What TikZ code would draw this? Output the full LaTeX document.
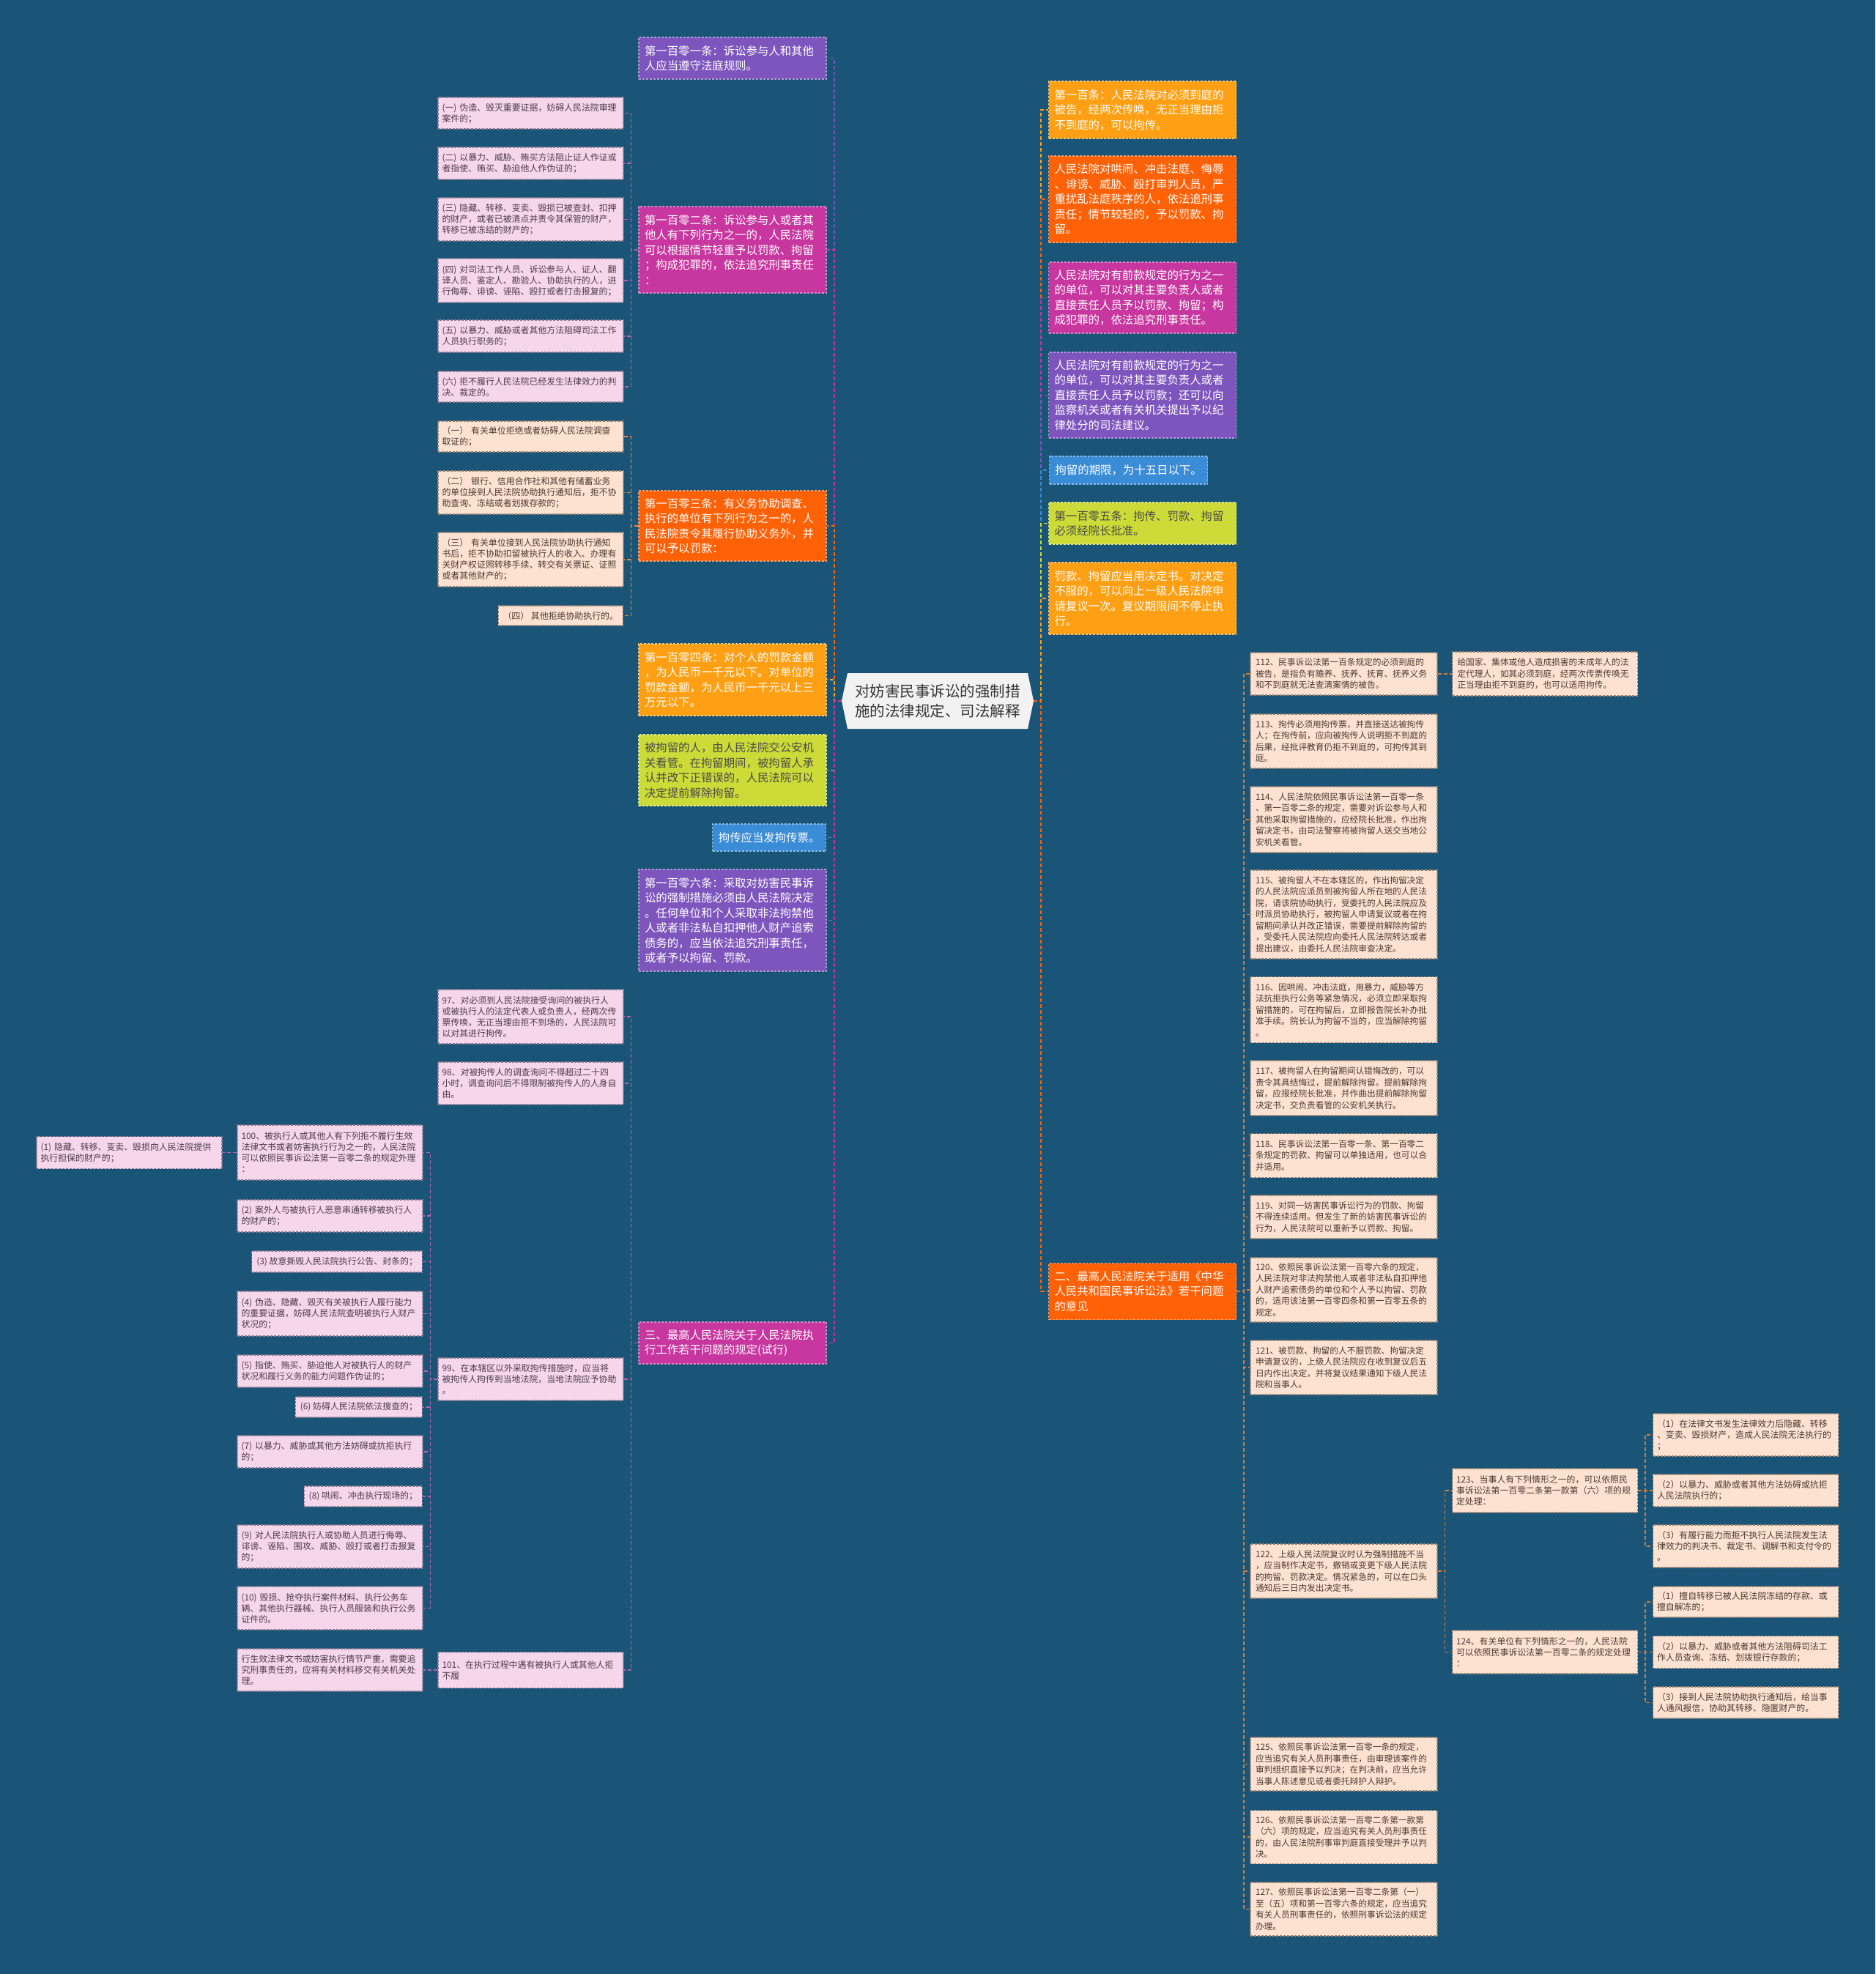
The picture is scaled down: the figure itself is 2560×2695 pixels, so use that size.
\documentclass[tikz,border=0pt]{standalone}
\usepackage{fontspec}
\setmainfont{Noto Sans CJK SC}
\newcommand\fmain{\fontsize{15.4}{20.5}\selectfont}
\newcommand\fleaf{\fontsize{11.9}{15}\selectfont}
\newcommand\fright{\fontsize{11.7}{15.5}\selectfont}
\newcommand\fcentre{\fontsize{20.5}{27}\selectfont}
\definecolor{bg}{HTML}{1A5577}
\definecolor{cPurple}{HTML}{7E55BD}
\definecolor{cMag}{HTML}{C7379F}
\definecolor{cRed}{HTML}{FF6106}
\definecolor{cAmber}{HTML}{FFA014}
\definecolor{cLime}{HTML}{CCDB38}
\definecolor{cBlue}{HTML}{3B8CD6}
\definecolor{cDark}{HTML}{4A4A4A}
\definecolor{cPink}{HTML}{F5D6EA}
\definecolor{cPinkText}{HTML}{4E3B4A}
\definecolor{cPinkLine}{HTML}{8A7A92}
\definecolor{cPeach}{HTML}{FDE2D1}
\definecolor{cPeachText}{HTML}{4A3A30}
\definecolor{cPeachLine}{HTML}{9A8272}
\definecolor{cCentre}{HTML}{F2F2F2}
\definecolor{cCentreText}{HTML}{363636}
\definecolor{lPink}{HTML}{B565B0}
\definecolor{lOrange}{HTML}{E88848}
\definecolor{lBrown}{HTML}{D27C3C}
\tikzset{
  box/.style={rectangle, align=left, anchor=center, line width=1.1pt, dash pattern=on 3pt off 2pt},
  mainbox/.style={box, text width=240pt, inner xsep=8pt, inner ysep=6pt, font=\fmain, text=white, fill=#1, draw=#1!60!white},
  mainshort/.style={box, inner xsep=8pt, inner ysep=6pt, font=\fmain, text=white, fill=#1, draw=#1!60!white},
  pinkleaf/.style={box, text width=242pt, inner xsep=5.5pt, inner ysep=5pt, font=\fleaf, text=cPinkText, fill=cPink, draw=cPinkLine},
  pinkshort/.style={box, inner xsep=6.5pt, inner ysep=5pt, font=\fleaf, text=cPinkText, fill=cPink, draw=cPinkLine},
  peachleaf/.style={box, text width=242pt, inner xsep=5.5pt, inner ysep=5pt, font=\fleaf, text=cPeachText, fill=cPeach, draw=cPeachLine},
  peachshort/.style={box, inner xsep=6.5pt, inner ysep=5pt, font=\fleaf, text=cPeachText, fill=cPeach, draw=cPeachLine},
  rightleaf/.style={box, text width=241pt, inner xsep=7pt, inner ysep=5pt, font=\fright, text=cPeachText, fill=cPeach, draw=cPeachLine},
  centretext/.style={rectangle, align=left, inner sep=0pt, font=\fcentre, text=cCentreText, minimum width=262pt, minimum height=76pt},
  conn/.style={draw=#1, line width=1.6pt, dash pattern=on 5pt off 3pt},
}
\newcommand\cL[3]{\draw[conn=#3] (#1.west) -- ++(-10,0) |- (#2.east);}
\newcommand\cR[3]{\draw[conn=#3] (#1.east) -- ++(10,0) |- (#2.west);}
\begin{document}
\begin{tikzpicture}[x=1pt,y=-1pt]
\fill[bg] (0,0) rectangle (2560,2695);
\useasboundingbox (0,0) rectangle (2560,2695);

% centre
\fill[cCentre] (1149,957) -- (1157,919) -- (1403,919) -- (1411,957) -- (1403,995) -- (1157,995) -- cycle;
\node[centretext] (c) at (1280,957) {对妨害民事诉讼的强制措\\施的法律规定、司法解释};

% left main column
\node[mainbox=cPurple, minimum height=57pt] (m101) at (1000,79.5) {第一百零一条：诉讼参与人和其他\\人应当遵守法庭规则。};
\node[mainbox=cMag, minimum height=118pt] (m102) at (1000,341) {第一百零二条：诉讼参与人或者其\\他人有下列行为之一的，人民法院\\可以根据情节轻重予以罚款、拘留\\；构成犯罪的，依法追究刑事责任\\：};
\node[mainbox=cRed, minimum height=96pt] (m103) at (1000,718) {第一百零三条：有义务协助调查、\\执行的单位有下列行为之一的，人\\民法院责令其履行协助义务外，并\\可以予以罚款：};
\node[mainbox=cAmber, minimum height=98pt] (m104) at (1000,928) {第一百零四条：对个人的罚款金额\\，为人民币一千元以下。对单位的\\罚款金额，为人民币一千元以上三\\万元以下。};
\node[mainbox=cLime, text=cDark, minimum height=97pt] (mJL) at (1000,1051.5) {被拘留的人，由人民法院交公安机\\关看管。在拘留期间，被拘留人承\\认并改下正错误的，人民法院可以\\决定提前解除拘留。};
\node[mainshort=cBlue, anchor=east, minimum height=37pt] (mJC) at (1128,1143.5) {拘传应当发拘传票。};
\node[mainbox=cPurple, minimum height=139pt] (m106) at (1000,1256.5) {第一百零六条：采取对妨害民事诉\\讼的强制措施必须由人民法院决定\\。任何单位和个人采取非法拘禁他\\人或者非法私自扣押他人财产追索\\债务的，应当依法追究刑事责任，\\或者予以拘留、罚款。};
\node[mainbox=cMag, minimum height=57pt] (m3) at (1000,1833.5) {三、最高人民法院关于人民法院执\\行工作若干问题的规定(试行)};

% 102 leaves
\node[pinkleaf, minimum height=43pt] (a1) at (724.5,154.5) {(一)~伪造、毁灭重要证据，妨碍人民法院审理\\案件的；};
\node[pinkleaf, minimum height=44pt] (a2) at (724.5,223) {(二)~以暴力、威胁、贿买方法阻止证人作证或\\者指使、贿买、胁迫他人作伪证的；};
\node[pinkleaf, minimum height=59pt] (a3) at (724.5,299.5) {(三)~隐藏、转移、变卖、毁损已被查封、扣押\\的财产，或者已被清点并责令其保管的财产，\\转移已被冻结的财产的；};
\node[pinkleaf, minimum height=60pt] (a4) at (724.5,383) {(四)~对司法工作人员、诉讼参与人、证人、翻\\译人员、鉴定人、勘验人、协助执行的人，进\\行侮辱、诽谤、诬陷、殴打或者打击报复的；};
\node[pinkleaf, minimum height=44pt] (a5) at (724.5,459) {(五)~以暴力、威胁或者其他方法阻碍司法工作\\人员执行职务的；};
\node[pinkleaf, minimum height=42pt] (a6) at (724.5,528) {(六)~拒不履行人民法院已经发生法律效力的判\\决、裁定的。};

% 103 leaves
\node[peachleaf, minimum height=42pt] (b1) at (724.5,596) {（一）~有关单位拒绝或者妨碍人民法院调查\\取证的；};
\node[peachleaf, minimum height=59pt] (b2) at (724.5,672.5) {（二）~银行、信用合作社和其他有储蓄业务\\的单位接到人民法院协助执行通知后，拒不协\\助查询、冻结或者划拨存款的；};
\node[peachleaf, minimum height=74pt] (b3) at (724.5,764) {（三）~有关单位接到人民法院协助执行通知\\书后，拒不协助扣留被执行人的收入、办理有\\关财产权证照转移手续、转交有关票证、证照\\或者其他财产的；};
\node[peachshort, anchor=east, minimum height=27pt] (b4) at (851,840.5) {（四）~其他拒绝协助执行的。};

% 三 children
\node[pinkleaf, minimum height=74pt] (c97) at (724.5,1388) {97、对必须到人民法院接受询问的被执行人\\或被执行人的法定代表人或负责人，经两次传\\票传唤，无正当理由拒不到场的，人民法院可\\以对其进行拘传。};
\node[pinkleaf, minimum height=58pt] (c98) at (724.5,1479) {98、对被拘传人的调查询问不得超过二十四\\小时，调查询问后不得限制被拘传人的人身自\\由。};
\node[pinkleaf, minimum height=58pt] (c99) at (724.5,1883) {99、在本辖区以外采取拘传措施时，应当将\\被拘传人拘传到当地法院，当地法院应予协助\\。};
\node[pinkleaf, minimum height=49pt] (c101) at (724.5,2280) {101、在执行过程中遇有被执行人或其他人拒\\不履};

% 99 children
\node[pinkleaf, minimum height=75pt] (d100) at (450.5,1573.5) {100、被执行人或其他人有下列拒不履行生效\\法律文书或者妨害执行行为之一的，人民法院\\可以依照民事诉讼法第一百零二条的规定外理\\：};
\node[pinkleaf, minimum height=44pt] (d1) at (176.5,1573.5) {(1)~隐藏、转移、变卖、毁损向人民法院提供\\执行担保的财产的；};
\node[pinkleaf, minimum height=44pt] (d2) at (450.5,1660) {(2)~案外人与被执行人恶意串通转移被执行人\\的财产的；};
\node[pinkshort, anchor=east, minimum height=29pt] (d3) at (577,1722.5) {(3)~故意撕毁人民法院执行公告、封条的；};
\node[pinkleaf, minimum height=61pt] (d4) at (450.5,1793.5) {(4)~伪造、隐藏、毁灭有关被执行人履行能力\\的重要证据，妨碍人民法院查明被执行人财产\\状况的；};
\node[pinkleaf, minimum height=44pt] (d5) at (450.5,1872) {(5)~指使、贿买、胁迫他人对被执行人的财产\\状况和履行义务的能力问题作伪证的；};
\node[pinkshort, anchor=east, minimum height=28pt] (d6) at (577,1921) {(6)~妨碍人民法院依法搜查的；};
\node[pinkleaf, minimum height=44pt] (d7) at (450.5,1982) {(7)~以暴力、威胁或其他方法妨碍或抗拒执行\\的；};
\node[pinkshort, anchor=east, minimum height=28pt] (d8) at (577,2043) {(8)~哄闹、冲击执行现场的；};
\node[pinkleaf, minimum height=59pt] (d9) at (450.5,2111.5) {(9)~对人民法院执行人或协助人员进行侮辱、\\诽谤、诬陷、围攻、威胁、殴打或者打击报复\\的；};
\node[pinkleaf, minimum height=59pt] (d10) at (450.5,2195.5) {(10)~毁损、抢夺执行案件材料、执行公务车\\辆、其他执行器械、执行人员服装和执行公务\\证件的。};
\node[pinkleaf, minimum height=58pt] (e1) at (450.5,2280) {行生效法律文书或妨害执行情节严重，需要追\\究刑事责任的，应将有关材料移交有关机关处\\理。};

% right main column
\node[mainbox=cAmber, minimum height=78pt] (r100) at (1559.5,150) {第一百条：人民法院对必须到庭的\\被告，经两次传唤，无正当理由拒\\不到庭的，可以拘传。};
\node[mainbox=cRed, minimum height=118pt] (r2) at (1559.5,272) {人民法院对哄闹、冲击法庭、侮辱\\、诽谤、威胁、殴打审判人员，严\\重扰乱法庭秩序的人，依法追刑事\\责任；情节较轻的，予以罚款、拘\\留。};
\node[mainbox=cMag, minimum height=97pt] (r3) at (1559.5,406.5) {人民法院对有前款规定的行为之一\\的单位，可以对其主要负责人或者\\直接责任人员予以罚款、拘留；构\\成犯罪的，依法追究刑事责任。};
\node[mainbox=cPurple, minimum height=117pt] (r4) at (1559.5,539.5) {人民法院对有前款规定的行为之一\\的单位，可以对其主要负责人或者\\直接责任人员予以罚款；还可以向\\监察机关或者有关机关提出予以纪\\律处分的司法建议。};
\node[mainshort=cBlue, anchor=west, minimum height=38pt] (r5) at (1432,642) {拘留的期限，为十五日以下。};
\node[mainbox=cLime, text=cDark, minimum height=57pt] (r6) at (1559.5,714.5) {第一百零五条：拘传、罚款、拘留\\必须经院长批准。};
\node[mainbox=cAmber, minimum height=98pt] (r7) at (1559.5,817) {罚款、拘留应当用决定书。对决定\\不服的，可以向上一级人民法院申\\请复议一次。复议期限间不停止执\\行。};
\node[mainbox=cRed, minimum height=77pt] (r8) at (1559.5,1763) {二、最高人民法院关于适用《中华\\人民共和国民事诉讼法》若干问题\\的意见};

% 二 children
\node[rightleaf, minimum height=58pt] (s112) at (1834.5,920) {112、民事诉讼法第一百条规定的必须到庭的\\被告，是指负有赡养、抚养、抚育、抚养义务\\和不到庭就无法查清案情的被告。};
\node[rightleaf, minimum height=74pt] (s113) at (1834.5,1012) {113、拘传必须用拘传票，并直接送达被拘传\\人；在拘传前，应向被拘传人说明拒不到庭的\\后果，经批评教育仍拒不到庭的，可拘传其到\\庭。};
\node[rightleaf, minimum height=90pt] (s114) at (1834.5,1119) {114、人民法院依照民事诉讼法第一百零一条\\、第一百零二条的规定，需要对诉讼参与人和\\其他采取拘留措施的，应经院长批准，作出拘\\留决定书，由司法警察将被拘留人送交当地公\\安机关看管。};
\node[rightleaf, minimum height=121pt] (s115) at (1834.5,1248.5) {115、被拘留人不在本辖区的，作出拘留决定\\的人民法院应派员到被拘留人所在地的人民法\\院，请该院协助执行，受委托的人民法院应及\\时派员协助执行，被拘留人申请复议或者在拘\\留期间承认并改正错误，需要提前解除拘留的\\，受委托人民法院应向委托人民法院转达或者\\提出建议，由委托人民法院审查决定。};
\node[rightleaf, minimum height=90pt] (s116) at (1834.5,1378.5) {116、因哄闹、冲击法庭，用暴力，威胁等方\\法抗拒执行公务等紧急情况，必须立即采取拘\\留措施的，可在拘留后，立即报告院长补办批\\准手续。院长认为拘留不当的，应当解除拘留\\。};
\node[rightleaf, minimum height=75pt] (s117) at (1834.5,1485.5) {117、被拘留人在拘留期间认错悔改的，可以\\责令其具结悔过，提前解除拘留。提前解除拘\\留，应报经院长批准，并作曲出提前解除拘留\\决定书，交负责看管的公安机关执行。};
\node[rightleaf, minimum height=60pt] (s118) at (1834.5,1577.5) {118、民事诉讼法第一百零一条、第一百零二\\条规定的罚款、拘留可以单独适用，也可以合\\并适用。};
\node[rightleaf, minimum height=59pt] (s119) at (1834.5,1661.5) {119、对同一妨害民事诉讼行为的罚款、拘留\\不得连续适用。但发生了新的妨害民事诉讼的\\行为，人民法院可以重新予以罚款、拘留。};
\node[rightleaf, minimum height=88pt] (s120) at (1834.5,1761) {120、依照民事诉讼法第一百零六条的规定，\\人民法院对非法拘禁他人或者非法私自扣押他\\人财产追索债务的单位和个人予以拘留、罚款\\的，适用该法第一百零四条和第一百零五条的\\规定。};
\node[rightleaf, minimum height=74pt] (s121) at (1834.5,1867) {121、被罚款、拘留的人不服罚款、拘留决定\\申请复议的，上级人民法院应在收到复议后五\\日内作出决定，并将复议结果通知下级人民法\\院和当事人。};
\node[rightleaf, minimum height=74pt] (s122) at (1834.5,2145) {122、上级人民法院复议时认为强制措施不当\\，应当制作决定书，撤销或变更下级人民法院\\的拘留、罚款决定。情况紧急的，可以在口头\\通知后三日内发出决定书。};
\node[rightleaf, minimum height=73pt] (s125) at (1834.5,2408.5) {125、依照民事诉讼法第一百零一条的规定，\\应当追究有关人员刑事责任，由审理该案件的\\审判组织直接予以判决；在判决前，应当允许\\当事人陈述意见或者委托辩护人辩护。};
\node[rightleaf, minimum height=73pt] (s126) at (1834.5,2508) {126、依照民事诉讼法第一百零二条第一款第\\（六）项的规定，应当追究有关人员刑事责任\\的，由人民法院刑事审判庭直接受理并予以判\\决。};
\node[rightleaf, minimum height=73pt] (s127) at (1834.5,2606.5) {127、依照民事诉讼法第一百零二条第（一）\\至（五）项和第一百零六条的规定，应当追究\\有关人员刑事责任的，依照刑事诉讼法的规定\\办理。};

% far right
\node[rightleaf, text width=239pt, minimum height=60pt] (t112) at (2109,920) {给国家、集体或他人造成损害的未成年人的法\\定代理人，如其必须到庭，经两次传票传唤无\\正当理由拒不到庭的，也可以适用拘传。};
\node[peachleaf, minimum height=60pt] (t123) at (2109,2035) {123、当事人有下列情形之一的，可以依照民\\事诉讼法第一百零二条第一款第（六）项的规\\定处理：};
\node[peachleaf, minimum height=59pt] (t124) at (2109,2255.5) {124、有关单位有下列情形之一的，人民法院\\可以依照民事诉讼法第一百零二条的规定处理\\：};
\node[peachleaf, minimum height=58pt] (u1) at (2383,1959) {（1）在法律文书发生法律效力后隐藏、转移\\、变卖、毁损财产，造成人民法院无法执行的\\；};
\node[peachleaf, minimum height=44pt] (u2) at (2383,2035) {（2）以暴力、威胁或者其他方法妨碍或抗拒\\人民法院执行的；};
\node[peachleaf, minimum height=58pt] (u3) at (2383,2111) {（3）有履行能力而拒不执行人民法院发生法\\律效力的判决书、裁定书、调解书和支付令的\\。};
\node[peachleaf, minimum height=42pt] (v1) at (2383,2187) {（1）擅自转移已被人民法院冻结的存款、或\\擅自解冻的；};
\node[peachleaf, minimum height=44pt] (v2) at (2383,2255.5) {（2）以暴力、威胁或者其他方法阻碍司法工\\作人员查询、冻结、划拨银行存款的；};
\node[peachleaf, minimum height=43pt] (v3) at (2383,2324.5) {（3）接到人民法院协助执行通知后，给当事\\人通风报信，协助其转移、隐匿财产的。};

% connectors: centre to left
\cL{c}{m101}{cPurple}
\cL{c}{m102}{cMag}
\cL{c}{m103}{cRed}
\cL{c}{m104}{cAmber}
\cL{c}{mJL}{cLime}
\cL{c}{mJC}{cBlue}
\cL{c}{m106}{cPurple}
\cL{c}{m3}{cMag}
% centre to right
\cR{c}{r100}{cAmber}
\cR{c}{r2}{cRed}
\cR{c}{r3}{cMag}
\cR{c}{r4}{cPurple}
\cR{c}{r5}{cBlue}
\cR{c}{r6}{cLime}
\cR{c}{r7}{cAmber}
\cR{c}{r8}{cRed}
% 102
\cL{m102}{a1}{lPink}
\cL{m102}{a2}{lPink}
\cL{m102}{a3}{lPink}
\cL{m102}{a4}{lPink}
\cL{m102}{a5}{lPink}
\cL{m102}{a6}{lPink}
% 103
\cL{m103}{b1}{lOrange}
\cL{m103}{b2}{lOrange}
\cL{m103}{b3}{lOrange}
\cL{m103}{b4}{lOrange}
% 三
\cL{m3}{c97}{lPink}
\cL{m3}{c98}{lPink}
\cL{m3}{c99}{lPink}
\cL{m3}{c101}{lPink}
\cL{c99}{d100}{lPink}
\cL{c99}{d2}{lPink}
\cL{c99}{d3}{lPink}
\cL{c99}{d4}{lPink}
\cL{c99}{d5}{lPink}
\cL{c99}{d6}{lPink}
\cL{c99}{d7}{lPink}
\cL{c99}{d8}{lPink}
\cL{c99}{d9}{lPink}
\cL{c99}{d10}{lPink}
\cL{d100}{d1}{lPink}
\cL{c101}{e1}{lPink}
% 二
\cR{r8}{s112}{lBrown}
\cR{r8}{s113}{lBrown}
\cR{r8}{s114}{lBrown}
\cR{r8}{s115}{lBrown}
\cR{r8}{s116}{lBrown}
\cR{r8}{s117}{lBrown}
\cR{r8}{s118}{lBrown}
\cR{r8}{s119}{lBrown}
\cR{r8}{s120}{lBrown}
\cR{r8}{s121}{lBrown}
\cR{r8}{s122}{lBrown}
\cR{r8}{s125}{lBrown}
\cR{r8}{s126}{lBrown}
\cR{r8}{s127}{lBrown}
\cR{s112}{t112}{lBrown}
\cR{s122}{t123}{lBrown}
\cR{s122}{t124}{lBrown}
\cR{t123}{u1}{lBrown}
\cR{t123}{u2}{lBrown}
\cR{t123}{u3}{lBrown}
\cR{t124}{v1}{lBrown}
\cR{t124}{v2}{lBrown}
\cR{t124}{v3}{lBrown}
\end{tikzpicture}
\end{document}
